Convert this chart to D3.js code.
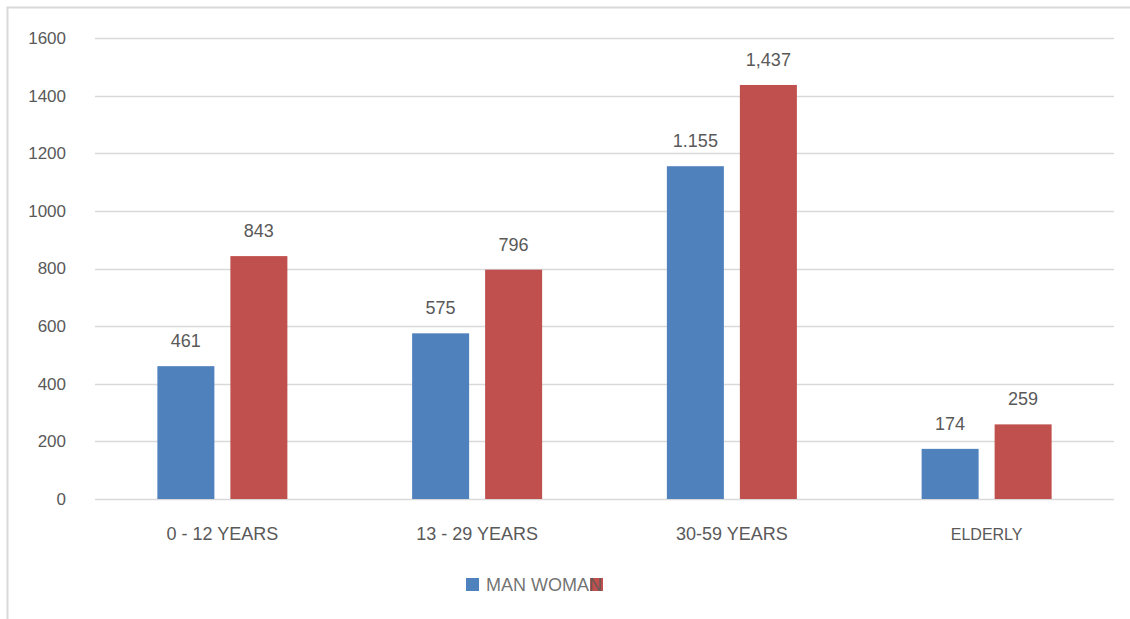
<!DOCTYPE html>
<html>
<head>
<meta charset="utf-8">
<script src="https://cdn.jsdelivr.net/npm/d3@7"></script>
<style>
  body { margin: 0; background: #fff; }
  text { font-family: "Liberation Sans", Arial, sans-serif; fill: #595959; }
</style>
</head>
<body>
<div id="chart"></div>
<script>
// data
var categories = ['0 - 12 YEARS', '13 - 29 YEARS', '30-59 YEARS', 'ELDERLY'];
var seriesNames = ['MAN', 'WOMAN'];
var manValues = [461, 575, 1155, 174];
var womanValues = [843, 796, 1437, 259];
var manLabels = ['461', '575', '1.155', '174'];
var womanLabels = ['843', '796', '1,437', '259'];
var yTicks = [0, 200, 400, 600, 800, 1000, 1200, 1400, 1600];

var colors = { MAN: '#4f81bd', WOMAN: '#c0504d' };

var svg = d3.select('#chart').append('svg')
  .attr('width', 1130).attr('height', 619);

// outer frame
svg.append('rect')
  .attr('x', 7.5).attr('y', 7.5)
  .attr('width', 1140).attr('height', 640)
  .style('fill', 'none').style('stroke', '#d9d9d9').style('stroke-width', 2);

var y = d3.scaleLinear().domain([0, 1600]).range([499, 38]);
var x0 = d3.scaleBand().domain(categories).range([95, 1114]);
var x1 = d3.scaleBand().domain(seriesNames).range([0, 130]).paddingInner(16 / 73);

// gridlines
svg.append('g').selectAll('line')
  .data(yTicks).enter().append('line')
  .attr('x1', 95).attr('x2', 1114)
  .attr('y1', function(d) { return Math.round(y(d)) + 0.5; })
  .attr('y2', function(d) { return Math.round(y(d)) + 0.5; })
  .style('stroke', '#d9d9d9').style('stroke-width', 1.5);

// y axis labels
var yAxis = d3.axisLeft(y).tickValues(yTicks).tickFormat(d3.format('d')).tickSize(0).tickPadding(0);
var gy = svg.append('g').attr('transform', 'translate(66,0)').call(yAxis);
gy.select('.domain').remove();
gy.selectAll('text').style('font-size', '17px').style('fill', '#595959')
  .style('font-family', '"Liberation Sans", Arial, sans-serif');

// rows per category
var rows = categories.map(function(c, i) {
  return [
    { cat: c, key: 'MAN', value: manValues[i], label: manLabels[i] },
    { cat: c, key: 'WOMAN', value: womanValues[i], label: womanLabels[i] }
  ];
});

var groups = svg.selectAll('g.grp')
  .data(rows).enter().append('g')
  .attr('class', 'grp')
  .attr('transform', function(d) {
    return 'translate(' + (x0(d[0].cat) + x0.bandwidth() / 2 - 65) + ',0)';
  });

groups.selectAll('rect')
  .data(function(d) { return d; })
  .enter().append('rect')
  .attr('x', function(d) { return x1(d.key); })
  .attr('y', function(d) { return y(d.value); })
  .attr('width', x1.bandwidth())
  .attr('height', function(d) { return y(0) - y(d.value); })
  .style('fill', function(d) { return colors[d.key]; });

groups.selectAll('text')
  .data(function(d) { return d; })
  .enter().append('text')
  .attr('x', function(d) { return x1(d.key) + x1.bandwidth() / 2; })
  .attr('y', function(d) { return y(d.value) - 19; })
  .attr('text-anchor', 'middle')
  .style('font-size', '18px')
  .text(function(d) { return d.label; });

// category labels
svg.append('g').selectAll('text')
  .data(categories).enter().append('text')
  .attr('x', function(d) { return x0(d) + x0.bandwidth() / 2; })
  .attr('y', 540)
  .attr('text-anchor', 'middle')
  .style('font-size', function(d) { return d === 'ELDERLY' ? '16px' : '18px'; })
  .text(function(d) { return d; });

// legend (the red swatch sits over the last letter, as in the source)
var legend = svg.append('g');
legend.append('rect').attr('x', 466).attr('y', 578).attr('width', 13).attr('height', 13)
  .style('fill', colors.MAN);
legend.append('rect').attr('x', 590).attr('y', 578).attr('width', 13).attr('height', 13)
  .style('fill', colors.WOMAN);
legend.append('text').attr('x', 486).attr('y', 591)
  .style('font-size', '18px')
  .style('fill-opacity', 0.85)
  .text(seriesNames.join(' '));
</script>
</body>
</html>
